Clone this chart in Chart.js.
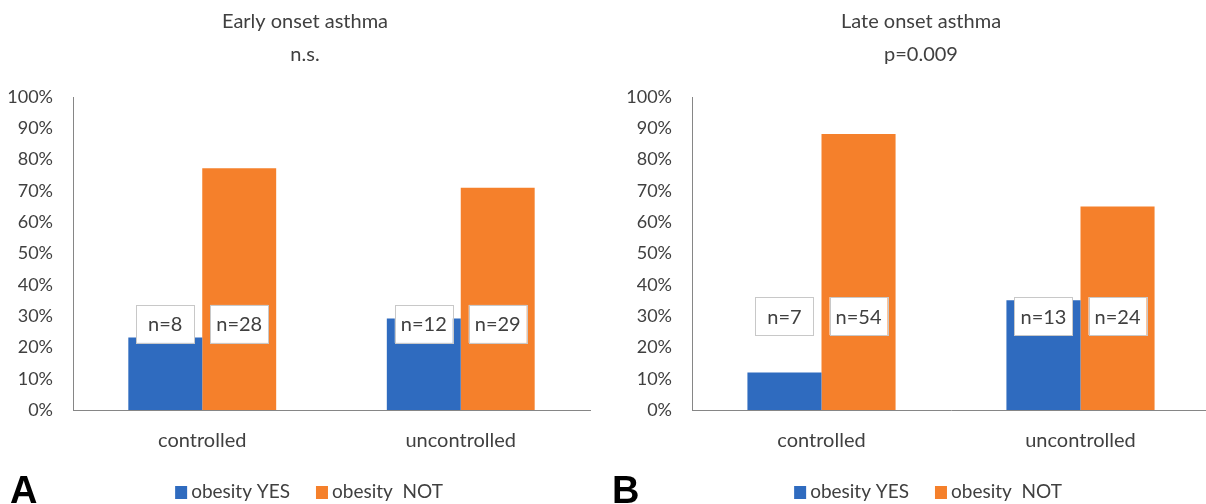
<!DOCTYPE html>
<html>
<head>
<meta charset="utf-8">
<script src="https://cdn.jsdelivr.net/npm/chart.js@4.4.1/dist/chart.umd.min.js"></script>
<style>
  html, body { margin: 0; padding: 0; background: #fff; }
  body { width: 1206px; height: 504px; overflow: hidden; position: relative; }
  .panel { position: absolute; top: 0; height: 504px; }
  #wrapA { left: 0; width: 612px; }
  #wrapB { left: 600px; width: 642px; }
</style>
</head>
<body>
<div class="panel" id="wrapA"><canvas id="chartA"></canvas></div>
<div class="panel" id="wrapB"><canvas id="chartB"></canvas></div>
<script>
// --- data ---
const categories = ['controlled', 'uncontrolled'];
const seriesNames = ['obesity YES', 'obesity  NOT'];
const tickValues = [0, 10, 20, 30, 40, 50, 60, 70, 80, 90, 100];

// early onset (A)
const earlyYes = [23.2, 29.2];
const earlyNot = [77.2, 71.0];
const earlyYesN = [8, 12];
const earlyNotN = [28, 29];

// late onset (B)
const lateYes = [12.0, 35.1];
const lateNot = [88.2, 65.0];
const lateYesN = [7, 13];
const lateNotN = [54, 24];

const BLUE = '#2f6bbf';
const ORANGE = '#f5802b';
const TEXT = '#404040';
const FONT = 'Lato, "Open Sans", sans-serif';

// draws the title, the n= boxes, the panel letter and the legend
const extrasPlugin = {
    id: 'extras',
    afterDatasetsDraw(chart, args, opts) {
        const ctx = chart.ctx;
        const yScale = chart.scales.y;
        const yPix = yScale.getPixelForValue(opts.labelLevel);
        ctx.save();
        ctx.font = '20px ' + FONT;
        ctx.textAlign = 'center';
        ctx.textBaseline = 'middle';
        chart.data.datasets.forEach((ds, i) => {
            const meta = chart.getDatasetMeta(i);
            meta.data.forEach((bar, j) => {
                const w = 58, h = 38;
                const x = bar.x - w / 2;
                const y = yPix - h / 2;
                ctx.fillStyle = '#fff';
                ctx.fillRect(x, y, w, h);
                ctx.strokeStyle = '#c8c8c8';
                ctx.lineWidth = 1;
                ctx.strokeRect(Math.round(x) + 0.5, Math.round(y) + 0.5, w, h);
                ctx.fillStyle = TEXT;
                ctx.fillText('n=' + ds.counts[j], bar.x, yPix + 1);
            });
        });
        ctx.restore();
    },
    afterDraw(chart, args, opts) {
        const ctx = chart.ctx;
        ctx.save();
        // two-line title
        ctx.fillStyle = TEXT;
        ctx.font = '20px ' + FONT;
        ctx.textAlign = 'center';
        ctx.textBaseline = 'middle';
        opts.title.forEach((line, k) => ctx.fillText(line, opts.titleCenter, 22 + k * 33));

        // panel letter
        ctx.fillStyle = '#000';
        ctx.font = 'bold 38px "Liberation Sans", Arial, sans-serif';
        ctx.textAlign = 'left';
        ctx.textBaseline = 'alphabetic';
        ctx.fillText(opts.letter, opts.letterX, 503);

        // legend built from the datasets
        ctx.font = '19px ' + FONT;
        const box = 12, gap = 4, itemGap = 26;
        const items = chart.data.datasets.map(ds => ({
            label: ds.label, color: ds.backgroundColor,
            w: box + gap + ctx.measureText(ds.label).width
        }));
        const total = items.reduce((s, it) => s + it.w, 0) + itemGap * (items.length - 1);
        let x = opts.legendCenter - total / 2;
        const cy = 492;
        items.forEach(it => {
            ctx.fillStyle = it.color;
            ctx.fillRect(x, cy - 6, box, box + 1);
            ctx.fillStyle = TEXT;
            ctx.textBaseline = 'middle';
            ctx.fillText(it.label, x + box + gap, cy);
            x += it.w + itemGap;
        });
        ctx.restore();
    }
};

function makeChart(id, yes, not, yesN, notN, cfg) {
    return new Chart(document.getElementById(id), {
        type: 'bar',
        data: {
            labels: categories,
            datasets: [
                { label: seriesNames[0], data: yes, counts: yesN, backgroundColor: BLUE, borderWidth: 0 },
                { label: seriesNames[1], data: not, counts: notN, backgroundColor: ORANGE, borderWidth: 0 }
            ]
        },
        options: {
            responsive: true,
            maintainAspectRatio: false,
            animation: false,
            layout: { padding: { left: 0, right: cfg.padRight, top: 97, bottom: 0 } },
            datasets: { bar: { categoryPercentage: 0.572, barPercentage: 1.0 } },
            plugins: {
                legend: { display: false },
                tooltip: { enabled: false },
                title: { display: false },
                extras: cfg.extras
            },
            scales: {
                x: {
                    grid: { display: false, drawTicks: false },
                    border: { display: true, color: '#868686', width: 1 },
                    ticks: { color: TEXT, font: { family: FONT, size: 20 }, padding: 19 },
                    afterFit: s => { s.height = 94; }
                },
                y: {
                    min: 0,
                    max: 100,
                    afterBuildTicks: s => { s.ticks = tickValues.map(v => ({ value: v })); },
                    grid: { display: false, drawTicks: false },
                    border: { display: true, color: '#868686', width: 1 },
                    ticks: {
                        color: TEXT,
                        font: { family: FONT, size: 18 },
                        padding: 20,
                        callback: v => v + '%'
                    },
                    afterFit: s => { s.width = cfg.axisWidth; }
                }
            }
        },
        plugins: [extrasPlugin]
    });
}

makeChart('chartA', earlyYes, earlyNot, earlyYesN, earlyNotN, {
    padRight: 22, axisWidth: 73,
    extras: { title: ['Early onset asthma', 'n.s.'], titleCenter: 305,
              labelLevel: 27.5, letter: 'A', letterX: 10, legendCenter: 309 }
});
makeChart('chartB', lateYes, lateNot, lateYesN, lateNotN, {
    padRight: 32, axisWidth: 92,
    extras: { title: ['Late onset asthma', 'p=0.009'], titleCenter: 321,
              labelLevel: 30, letter: 'B', letterX: 12, legendCenter: 328 }
});
</script>
</body>
</html>
